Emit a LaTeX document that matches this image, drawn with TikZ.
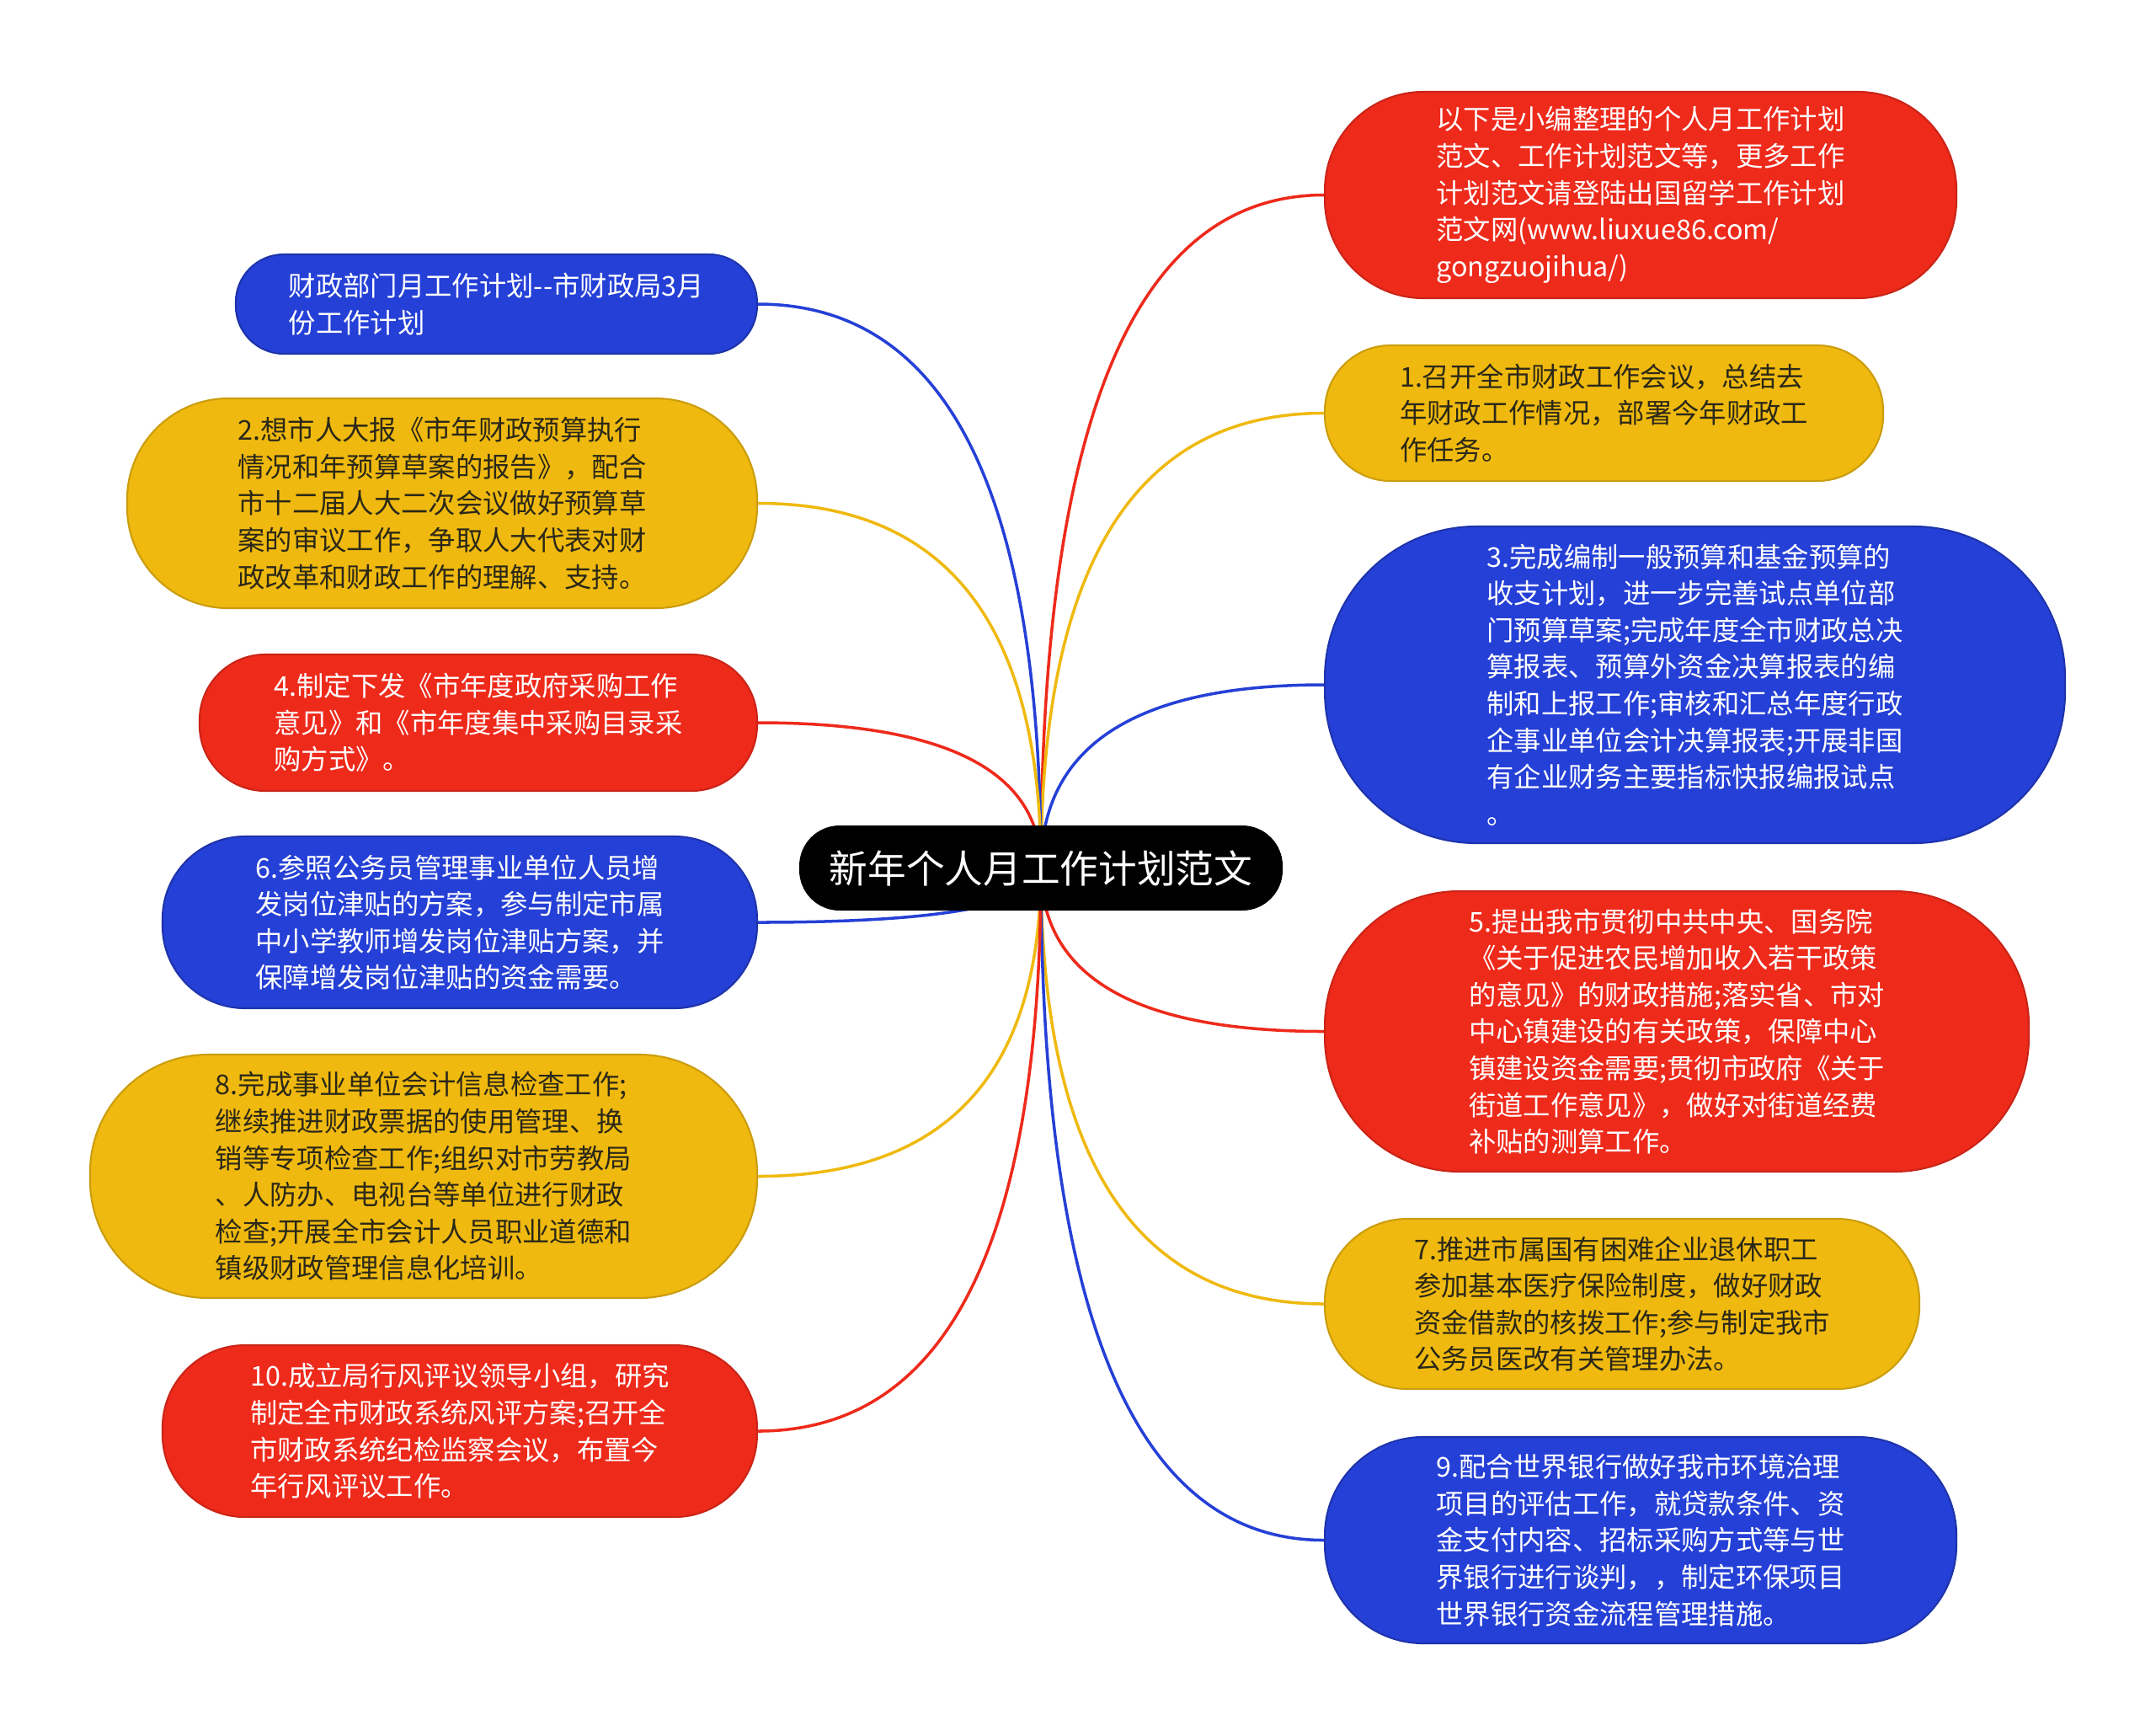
\documentclass[tikz,border=0pt]{standalone}
\usepackage{fontspec}
\setmainfont{Noto Sans CJK SC}
\usepackage{tikz}
\usetikzlibrary{calc,backgrounds}
\definecolor{mapred}{HTML}{EE2A1B}
\definecolor{mapyellow}{HTML}{EFB90F}
\definecolor{mapblue}{HTML}{2540D6}
\definecolor{maptext}{HTML}{2B2818}

\begin{document}
\begin{tikzpicture}[
  leaf/.style={rectangle, rounded corners=#1, inner sep=0pt, align=left, line width=0.6pt, font=\fontsize{9.2pt}{12.4pt}\selectfont},
  hot/.style={fill=mapred, draw=mapred!85!black, text=white},
  warm/.style={fill=mapyellow, draw=mapyellow!85!black, text=maptext},
  cool/.style={fill=mapblue, draw=mapblue!80!black, text=white},
  hubbox/.style={rectangle, rounded corners=0.48cm, fill=black, text=white, minimum width=5.74cm, minimum height=1.01cm, font=\fontsize{13pt}{16pt}\selectfont},
  link/.style={line width=1pt, to path={.. controls ($(\tikztostart)!0.667!(\tikztostart |- \tikztotarget)$) and ($(\tikztotarget)!0.667!(\tikztostart |- \tikztotarget)$) .. (\tikztotarget)}},
]
\useasboundingbox (0,0) rectangle (25.6,-20.6);

\node[hubbox] (hub) at (12.36,-10.305) {新年个人月工作计划范文};

% right side
\node[leaf=1.17cm, hot, anchor=west, minimum width=7.5cm, minimum height=2.45cm] (intro) at (15.72,-2.315) {以下是小编整理的个人月工作计划\\范文、工作计划范文等，更多工作\\计划范文请登陆出国留学工作计划\\范文网(www.liuxue86.com/\\gongzuojihua/)};
\node[leaf=0.78cm, warm, anchor=west, minimum width=6.63cm, minimum height=1.61cm] (p1) at (15.72,-4.905) {1.召开全市财政工作会议，总结去\\年财政工作情况，部署今年财政工\\作任务。};
\node[leaf=1.8cm, cool, anchor=west, minimum width=8.79cm, minimum height=3.76cm] (p3) at (15.72,-8.13) {3.完成编制一般预算和基金预算的\\收支计划，进一步完善试点单位部\\门预算草案;完成年度全市财政总决\\算报表、预算外资金决算报表的编\\制和上报工作;审核和汇总年度行政\\企事业单位会计决算报表;开展非国\\有企业财务主要指标快报编报试点\\。};
\node[leaf=1.6cm, hot, anchor=west, minimum width=8.36cm, minimum height=3.33cm] (p5) at (15.72,-12.245) {5.提出我市贯彻中共中央、国务院\\《关于促进农民增加收入若干政策\\的意见》的财政措施;落实省、市对\\中心镇建设的有关政策，保障中心\\镇建设资金需要;贯彻市政府《关于\\街道工作意见》，做好对街道经费\\补贴的测算工作。};
\node[leaf=0.98cm, warm, anchor=west, minimum width=7.06cm, minimum height=2.02cm] (p7) at (15.72,-15.48) {7.推进市属国有困难企业退休职工\\参加基本医疗保险制度，做好财政\\资金借款的核拨工作;参与制定我市\\公务员医改有关管理办法。};
\node[leaf=1.17cm, cool, anchor=west, minimum width=7.5cm, minimum height=2.45cm] (p9) at (15.72,-18.285) {9.配合世界银行做好我市环境治理\\项目的评估工作，就贷款条件、资\\金支付内容、招标采购方式等与世\\界银行进行谈判，，制定环保项目\\世界银行资金流程管理措施。};

% left side
\node[leaf=0.57cm, cool, anchor=east, minimum width=6.19cm, minimum height=1.18cm] (dept) at (9.0,-3.61) {财政部门月工作计划-{}-市财政局3月\\份工作计划};
\node[leaf=1.2cm, warm, anchor=east, minimum width=7.48cm, minimum height=2.49cm] (p2) at (9.0,-5.975) {2.想市人大报《市年财政预算执行\\情况和年预算草案的报告》，配合\\市十二届人大二次会议做好预算草\\案的审议工作，争取人大代表对财\\政改革和财政工作的理解、支持。};
\node[leaf=0.78cm, hot, anchor=east, minimum width=6.62cm, minimum height=1.62cm] (p4) at (9.0,-8.58) {4.制定下发《市年度政府采购工作\\意见》和《市年度集中采购目录采\\购方式》。};
\node[leaf=0.98cm, cool, anchor=east, minimum width=7.06cm, minimum height=2.04cm] (p6) at (9.0,-10.95) {6.参照公务员管理事业单位人员增\\发岗位津贴的方案，参与制定市属\\中小学教师增发岗位津贴方案，并\\保障增发岗位津贴的资金需要。};
\node[leaf=1.4cm, warm, anchor=east, minimum width=7.92cm, minimum height=2.89cm] (p8) at (9.0,-13.965) {8.完成事业单位会计信息检查工作;\\继续推进财政票据的使用管理、换\\销等专项检查工作;组织对市劳教局\\、人防办、电视台等单位进行财政\\检查;开展全市会计人员职业道德和\\镇级财政管理信息化培训。};
\node[leaf=0.98cm, hot, anchor=east, minimum width=7.06cm, minimum height=2.04cm] (p10) at (9.0,-16.99) {10.成立局行风评议领导小组，研究\\制定全市财政系统风评方案;召开全\\市财政系统纪检监察会议，布置今\\年行风评议工作。};

\begin{scope}[on background layer]
\fill[white] (0,0) rectangle (25.6,-20.6);
\draw[link, mapred] (hub.center) to (intro.west);
\draw[link, mapyellow] (hub.center) to (p1.west);
\draw[link, mapblue] (hub.center) to (p3.west);
\draw[link, mapred] (hub.center) to (p5.west);
\draw[link, mapyellow] (hub.center) to (p7.west);
\draw[link, mapblue] (hub.center) to (p9.west);
\draw[link, mapblue] (hub.center) to (dept.east);
\draw[link, mapyellow] (hub.center) to (p2.east);
\draw[link, mapred] (hub.center) to (p4.east);
\draw[link, mapblue] (hub.center) to (p6.east);
\draw[link, mapyellow] (hub.center) to (p8.east);
\draw[link, mapred] (hub.center) to (p10.east);
\end{scope}

\end{tikzpicture}
\end{document}
